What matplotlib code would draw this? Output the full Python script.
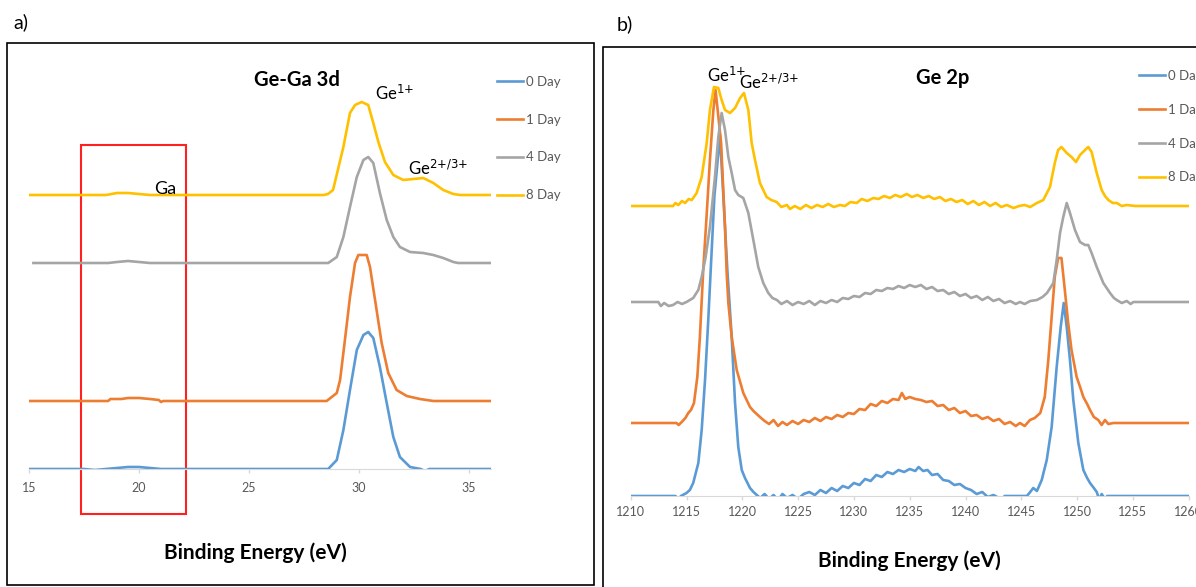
import matplotlib
matplotlib.use('Agg')
import matplotlib.pyplot as plt
from matplotlib.patches import Rectangle

plt.rcParams['font.family'] = ['Lato', 'DejaVu Sans']
plt.rcParams['mathtext.default'] = 'regular'

# ---- panel a: Ge-Ga 3d (stacked spectra, offsets included) ----
labels = ['0 Day', '1 Day', '4 Day', '8 Day']
colors = ['#5B9BD5', '#ED7D31', '#A5A5A5', '#FFC000']

a_x0 = [15, 17.5, 18.0, 18.5, 19.0, 19.5, 20.0, 20.5, 21.0, 28.6, 28.99, 29.29,
        29.59, 29.9, 30.2, 30.42, 30.65, 30.95, 31.26, 31.56, 31.86, 32.32,
        32.8, 33.0, 33.2, 36]
a_y0 = [0, 0, -1, 0, 1, 2, 2, 1, 0, 0, 9, 39,
        79, 119, 134, 137, 131, 102, 66, 32, 12, 2,
        0, -2, 0, 0]

a_x1 = [15, 18.6, 18.7, 19.2, 19.5, 20.0, 20.5, 20.9, 21.0, 21.1, 28.53, 28.99,
        29.14, 29.36, 29.59, 29.82, 29.97, 30.35, 30.5, 30.73, 31.03, 31.33,
        31.71, 32.17, 32.77, 33.38, 36]
a_y1 = [68, 68, 70, 70, 71, 71, 70, 69, 67, 68, 68, 76,
        89, 129, 172, 206, 214, 214, 202, 169, 126, 96,
        79, 73, 70, 68, 68]

a_x4 = [15.2, 18.6, 19.0, 19.5, 20.0, 20.5, 28.6, 28.99, 29.29, 29.59, 29.9,
        30.2, 30.42, 30.65, 30.95, 31.26, 31.56, 31.86, 32.32, 32.92, 33.38,
        33.83, 34.29, 34.5, 36]
a_y4 = [206, 206, 207, 208, 207, 206, 206, 212, 232, 262, 292,
        309, 312, 306, 276, 249, 232, 222, 217, 216, 214,
        211, 207, 206, 206]

a_x8 = [15, 18.5, 19.0, 19.5, 20.0, 20.5, 28.4, 28.59, 28.82, 29.29, 29.59,
        29.82, 30.12, 30.42, 30.65, 30.88, 31.18, 31.56, 32.01, 32.47, 32.92,
        33.38, 33.83, 34.29, 34.6, 36]
a_y8 = [274, 274, 276, 276, 275, 274, 274, 275, 279, 322, 356,
        364, 367, 364, 346, 327, 307, 294, 289, 290, 291,
        286, 279, 275, 274, 274]

a_ticks = [15, 20, 25, 30, 35]

# ---- panel b: Ge 2p ----
b_x0 = [1210, 1214, 1214.3, 1214.5, 1215.0, 1215.3, 1215.6, 1216.06, 1216.36,
        1216.66, 1216.95, 1217.17, 1217.5, 1218.0, 1218.3, 1218.66, 1219.05,
        1219.35, 1219.64, 1219.95, 1220.24, 1220.69, 1221.0, 1221.3, 1221.6,
        1222.0, 1222.4, 1222.8, 1223.2, 1223.6, 1224.0, 1224.5, 1225.0, 1225.5,
        1226.0, 1226.5, 1227.0, 1227.5, 1228.0, 1228.5, 1229.0, 1229.5, 1230.0,
        1230.5, 1231.0, 1231.5, 1232.0, 1232.5, 1233.0, 1233.5, 1234.0, 1234.5,
        1235.0, 1235.5, 1235.8, 1236.2, 1236.6, 1237.0, 1237.5, 1238.0, 1238.5,
        1239.0, 1239.5, 1240.0, 1240.5, 1241.0, 1241.5, 1242.0, 1242.5, 1243.0,
        1243.2, 1243.5, 1245.5, 1245.8, 1246.07, 1246.4, 1246.83, 1247.28,
        1247.72, 1248.17, 1248.53, 1248.8, 1249.07, 1249.36, 1249.66, 1250.11,
        1250.56, 1250.9, 1251.16, 1251.5, 1251.76, 1252.0, 1252.2, 1252.5,
        1252.7, 1260]
b_y0 = [0, 0, -3, 0, 3, 6, 13, 33, 66,
        116, 176, 226, 300, 361, 300, 226, 159,
        93, 49, 26, 18, 8, 4, 1, -2,
        2, -3, 1, -4, 2, -2, 1, -3, 2,
        4, 1, 6, 3, 8, 5, 10, 8, 13,
        11, 17, 15, 21, 19, 24, 22, 26, 24,
        27, 25, 29, 25, 26, 21, 22, 16, 15,
        11, 12, 8, 6, 2, 4, -1, 1, -2,
        -6, 0, 0, 4, 8, 5, 16, 36,
        69, 129, 169, 193, 169, 136, 96, 53,
        26, 18, 13, 8, 4, -4, 2, -3,
        0, 0]

b_x1 = [1210, 1214.1, 1214.3, 1214.57, 1214.9, 1215.16, 1215.4, 1215.67,
        1215.97, 1216.2, 1216.5, 1216.8, 1217.1, 1217.4, 1217.6, 1217.85,
        1218.1, 1218.45, 1218.6, 1218.75, 1219.05, 1219.5, 1220.09, 1220.69,
        1221.0, 1221.58, 1222.0, 1222.4, 1222.8, 1223.2, 1223.6, 1224.0,
        1224.5, 1225.0, 1225.5, 1226.0, 1226.5, 1227.0, 1227.5, 1228.0, 1228.5,
        1229.0, 1229.5, 1230.0, 1230.5, 1231.0, 1231.5, 1232.0, 1232.5, 1233.0,
        1233.5, 1234.0, 1234.3, 1234.6, 1235.0, 1235.5, 1236.0, 1236.5, 1237.0,
        1237.5, 1238.0, 1238.5, 1239.0, 1239.5, 1240.0, 1240.5, 1241.0, 1241.5,
        1242.0, 1242.5, 1243.0, 1243.5, 1244.0, 1244.5, 1244.88, 1245.3,
        1245.78, 1246.2, 1246.7, 1247.1, 1247.42, 1247.72, 1248.0, 1248.3,
        1248.6, 1248.9, 1249.2, 1249.5, 1249.96, 1250.3, 1250.56, 1250.9,
        1251.16, 1251.5, 1251.9, 1252.2, 1252.5, 1252.8, 1253.25, 1260]
b_y1 = [73, 73, 71, 74, 78, 83, 86, 93,
        119, 159, 226, 280, 336, 385, 406, 380,
        353, 269, 223, 193, 159, 126, 103, 89,
        85, 79, 75, 72, 76, 70, 74, 71,
        75, 72, 76, 74, 78, 75, 79, 77, 81,
        79, 83, 82, 87, 86, 92, 90, 95, 93,
        97, 96, 103, 97, 99, 97, 96, 94, 95,
        90, 91, 86, 88, 83, 85, 80, 81, 77,
        79, 75, 77, 72, 74, 70, 73, 70,
        76, 78, 83, 99, 136, 179, 219, 238,
        238, 206, 173, 146, 119, 108, 99, 92,
        86, 79, 76, 71, 76, 72, 73, 73]

b_x4 = [1210, 1212.47, 1212.7, 1213.0, 1213.4, 1213.8, 1214.2, 1214.6, 1215.0,
        1215.3, 1215.6, 1216.06, 1216.36, 1216.7, 1217.1, 1217.55, 1217.85,
        1218.15, 1218.45, 1218.75, 1219.05, 1219.35, 1219.64, 1220.09, 1220.54,
        1220.99, 1221.43, 1221.88, 1222.33, 1222.7, 1223.1, 1223.5, 1224.0,
        1224.5, 1225.0, 1225.5, 1226.0, 1226.5, 1227.0, 1227.5, 1228.0, 1228.5,
        1229.0, 1229.5, 1230.0, 1230.5, 1231.0, 1231.5, 1232.0, 1232.5, 1233.0,
        1233.5, 1234.0, 1234.5, 1235.0, 1235.5, 1236.0, 1236.5, 1237.0, 1237.5,
        1238.0, 1238.5, 1239.0, 1239.5, 1240.0, 1240.5, 1241.0, 1241.5, 1242.0,
        1242.5, 1243.0, 1243.5, 1244.0, 1244.5, 1244.88, 1245.3, 1245.8,
        1246.4, 1246.9, 1247.3, 1247.87, 1248.17, 1248.47, 1248.76, 1249.07,
        1249.36, 1249.81, 1250.26, 1250.71, 1251.0, 1251.3, 1251.76, 1252.35,
        1252.95, 1253.3, 1253.55, 1254.0, 1254.45, 1254.8, 1255.04, 1260]
b_y4 = [194, 194, 190, 193, 190, 191, 194, 192, 194,
        196, 198, 206, 219, 238, 269, 319, 359,
        383, 366, 339, 323, 306, 301, 298, 283,
        256, 229, 213, 203, 198, 196, 192, 195,
        191, 194, 192, 195, 191, 195, 193, 196, 194,
        198, 197, 200, 199, 203, 202, 206, 205, 208,
        207, 210, 208, 211, 209, 211, 207, 209, 205,
        206, 202, 204, 200, 202, 198, 200, 196, 199,
        195, 197, 193, 195, 192, 194, 192, 195,
        196, 199, 203, 213, 236, 263, 279, 293,
        283, 266, 254, 251, 251, 243, 229, 213,
        203, 198, 196, 193, 195, 192, 194, 194]

b_x8 = [1210, 1213.8, 1214.0, 1214.27, 1214.6, 1214.87, 1215.2, 1215.47,
        1215.91, 1216.36, 1216.81, 1217.1, 1217.46, 1217.85, 1218.15, 1218.45,
        1218.9, 1219.35, 1219.8, 1220.15, 1220.54, 1220.84, 1221.14, 1221.58,
        1222.18, 1222.6, 1223.08, 1223.5, 1224.0, 1224.27, 1224.7, 1225.2,
        1225.7, 1226.2, 1226.7, 1227.2, 1227.7, 1228.2, 1228.75, 1229.2, 1229.7,
        1230.25, 1230.7, 1231.2, 1231.74, 1232.2, 1232.7, 1233.23, 1233.7,
        1234.2, 1234.73, 1235.2, 1235.7, 1236.22, 1236.7, 1237.2, 1237.71,
        1238.2, 1238.7, 1239.2, 1239.7, 1240.2, 1240.7, 1241.2, 1241.7, 1242.2,
        1242.7, 1243.2, 1243.7, 1244.3, 1244.8, 1245.3, 1245.8, 1246.4, 1246.97,
        1247.57, 1248.0, 1248.3, 1248.6, 1249.07, 1249.5, 1249.9, 1250.26,
        1250.71, 1251.0, 1251.3, 1251.76, 1252.2, 1252.5, 1252.8, 1253.2,
        1253.55, 1254.0, 1254.45, 1255.2, 1260]
b_y8 = [290, 290, 293, 291, 295, 293, 297, 296,
        303, 319, 353, 386, 409, 408, 396, 386,
        383, 388, 398, 403, 386, 353, 336, 313,
        299, 296, 294, 289, 291, 287, 290, 287,
        291, 288, 291, 289, 292, 289, 291, 290, 294,
        293, 297, 295, 298, 297, 300, 298, 301,
        299, 302, 299, 301, 298, 300, 297, 299,
        295, 297, 294, 296, 292, 295, 291, 294, 290,
        293, 289, 291, 288, 290, 291, 289, 293, 296,
        309, 333, 346, 349, 343, 339, 334, 341,
        346, 349, 344, 323, 306, 300, 296, 293,
        293, 290, 291, 290, 290]

b_ticks = list(range(1210, 1261, 5))

W, H = 1196, 587
fig = plt.figure(figsize=(W / 100, H / 100), dpi=100)


def fx(px):
    return px / W


def fy(py):
    return 1 - py / H


def style(ax, ticks, pad):
    for s in ['left', 'right', 'top']:
        ax.spines[s].set_visible(False)
    ax.spines['bottom'].set_color('#d9d9d9')
    ax.spines['bottom'].set_zorder(1)
    ax.set_yticks([])
    ax.set_xticks(ticks)
    ax.tick_params(axis='x', colors='#d9d9d9', labelcolor='#595959',
                   labelsize=9, length=3, width=1, pad=pad)
    ax.patch.set_alpha(0)


# frames around the two panels
fig.patches.append(Rectangle((fx(7), fy(585)), fx(594) - fx(7), fy(43) - fy(585),
                             transform=fig.transFigure, fill=False,
                             edgecolor='black', lw=1.2))
fig.patches.append(Rectangle((fx(603), -0.05), 0.6, fy(47) + 0.05,
                             transform=fig.transFigure, fill=False,
                             edgecolor='black', lw=1.2))

sup1 = r'Ge$^{\text{1+}}$'
sup23 = r'Ge$^{\text{2+/3+}}$'

# panel a
axa = fig.add_axes([fx(29), fy(469), fx(491) - fx(29), fy(60) - fy(469)])
for x, y, c, lab in zip([a_x0, a_x1, a_x4, a_x8], [a_y0, a_y1, a_y4, a_y8],
                        colors, labels):
    axa.plot(x, y, color=c, lw=1.9, label=lab)
axa.set_xlim(15, 36)
axa.set_ylim(0, 409)
style(axa, a_ticks, 6)
axa.add_patch(Rectangle((17.36, -45), 22.14 - 17.36, 324 + 45, fill=False,
                        edgecolor='#ff2020', lw=1.5, clip_on=False))
axa.text(21.18, 275, 'Ga', fontsize=13, ha='center', va='baseline')
axa.text(30.73, 369, sup1, fontsize=12, ha='left', va='baseline')
axa.text(32.24, 294, sup23, fontsize=12, ha='left', va='baseline')
axa.legend(loc='upper left', bbox_to_anchor=(fx(497), fy(76)),
           bbox_transform=fig.transFigure, frameon=False, fontsize=9.5,
           handlelength=2.0, handletextpad=0.2, labelspacing=1.95,
           borderpad=0, borderaxespad=0, labelcolor='#595959')

# panel b
axb = fig.add_axes([fx(630.7), fy(496), fx(1188.7) - fx(630.7), fy(60) - fy(496)])
for x, y, c, lab in zip([b_x0, b_x1, b_x4, b_x8], [b_y0, b_y1, b_y4, b_y8],
                        colors, labels):
    axb.plot(x, y, color=c, lw=1.9, label=lab)
axb.set_xlim(1210, 1260)
axb.set_ylim(0, 436)
style(axb, b_ticks, 4)
axb.text(1216.87, 414, sup1, fontsize=12, ha='left', va='baseline')
axb.text(1219.73, 407, sup23, fontsize=12, ha='left', va='baseline')
axb.legend(loc='upper left', bbox_to_anchor=(fx(1139), fy(70)),
           bbox_transform=fig.transFigure, frameon=False, fontsize=9.5,
           handlelength=2.0, handletextpad=0.2, labelspacing=1.65,
           borderpad=0, borderaxespad=0, labelcolor='#595959')

# titles and labels
fig.text(fx(297), fy(80), 'Ge-Ga 3d', fontsize=14.5, fontweight='bold',
         ha='center', va='center')
fig.text(fx(943), fy(78), 'Ge 2p', fontsize=14.5, fontweight='bold',
         ha='center', va='center')
fig.text(fx(255), fy(553), 'Binding Energy (eV)', fontsize=15,
         fontweight='bold', ha='center', va='center')
fig.text(fx(909), fy(561), 'Binding Energy (eV)', fontsize=15,
         fontweight='bold', ha='center', va='center')
fig.text(fx(13), fy(22), 'a)', fontsize=14, ha='left', va='center')
fig.text(fx(617), fy(24), 'b)', fontsize=14, ha='left', va='center')

fig.savefig('out.png', dpi=100)
